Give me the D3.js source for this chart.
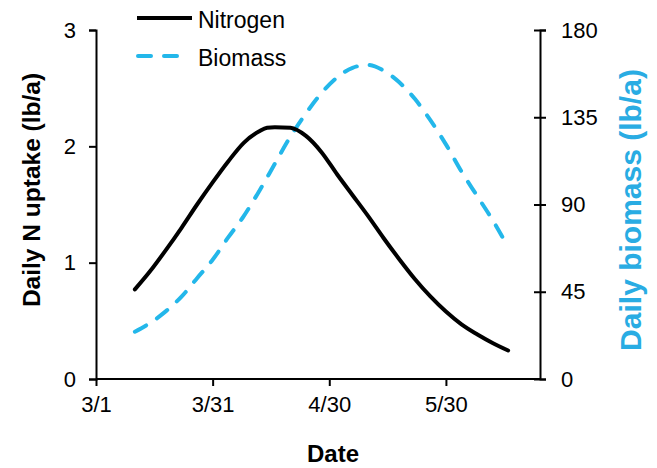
<!DOCTYPE html>
<html><head><meta charset="utf-8">
<script src="https://cdn.jsdelivr.net/npm/d3@7"></script>
<style>body{margin:0;background:#fff}svg{display:block}text{font-family:"Liberation Sans",Arial,sans-serif}</style>
</head><body><svg id="c" width="657" height="468"></svg>
<script>
// Days after 3/1 (sampled) and values
const days = [10,14,18,22,26,30,34,38,42,44,46,50,54,58,62,66,70,74,78,82,86,90,94,98,102,106];
const nitrogen = [0.77,0.93,1.11,1.30,1.50,1.69,1.87,2.03,2.13,2.16,2.165,2.16,2.09,1.95,1.76,1.58,1.40,1.21,1.03,0.86,0.71,0.58,0.47,0.385,0.31,0.245];
const biomassDays = [10,14,18,22,26,30,34,38,42,46,50,54,58,62,66,70,74,78,82,86,90,94,98,102,106];
const biomass = [24.4,29,35,42.5,52,61.5,73,84,97,111,125,137,147.5,155.5,160.5,162,159,153,144.5,133.5,121,107,94.5,82,68];
const xTickLabels = ["3/1","3/31","4/30","5/30"];
const xTickDays = [0,30,60,90];
const leftTicks = [0,1,2,3];
const rightTicks = [0,45,90,135,180];
const blue = "#23B7EA";

const base = new Date(Date.UTC(2013,2,1));
const toDate = d => new Date(base.getTime() + d*86400000);

const svg = d3.select("#c");
const x = d3.scaleUtc().domain([toDate(0), toDate(114.2)]).range([96,540]);
const yL = d3.scaleLinear().domain([0,3]).range([379,30]);
const yR = d3.scaleLinear().domain([0,180]).range([379,30]);

// Axes
const fmtMap = new Map(xTickDays.map((d,i)=>[+toDate(d), xTickLabels[i]]));
const xAxis = d3.axisBottom(x).tickValues(xTickDays.map(toDate)).tickSize(7).tickPadding(10)
  .tickFormat(d => fmtMap.get(+d));
const gx = svg.append("g").attr("transform","translate(0,379)").call(xAxis);
const gl = svg.append("g").attr("transform","translate(96,0)")
  .call(d3.axisLeft(yL).tickValues(leftTicks).tickSize(7).tickPadding(13).tickFormat(d3.format("d")));
const gr = svg.append("g").attr("transform","translate(540,0)")
  .call(d3.axisRight(yR).tickValues(rightTicks).tickSize(6).tickPadding(15).tickFormat(d3.format("d")));
gr.selectAll(".tick line").attr("x1",-6);
[gx,gl,gr].forEach(g=>{
  g.select(".domain").attr("stroke","#000").attr("stroke-width",2);
  g.selectAll(".tick line").attr("stroke","#000").attr("stroke-width",2);
  g.selectAll(".tick text").attr("fill","#000").style("font-size","22px").style("font-family",'"Liberation Sans",Arial,sans-serif');
});
gx.select(".domain").attr("d","M96,0H540");

// Lines
const lineN = d3.line().x((d,i)=>x(toDate(days[i]))).y(d=>yL(d)).curve(d3.curveMonotoneX);
const lineB = d3.line().x((d,i)=>x(toDate(biomassDays[i]))).y(d=>yR(d)).curve(d3.curveMonotoneX);
svg.append("path").datum(biomass).attr("d",lineB).attr("fill","none").attr("stroke",blue)
  .attr("stroke-width",4).attr("stroke-dasharray","13,13").attr("stroke-linecap","round");
svg.append("path").datum(nitrogen).attr("d",lineN).attr("fill","none").attr("stroke","#000")
  .attr("stroke-width",4).attr("stroke-linecap","round");

// Legend
svg.append("line").attr("x1",137).attr("x2",192).attr("y1",18).attr("y2",18).attr("stroke","#000").attr("stroke-width",4);
svg.append("text").attr("x",198).attr("y",28).style("font-size","23px").text("Nitrogen");
svg.append("line").attr("x1",138).attr("x2",181).attr("y1",56).attr("y2",56).attr("stroke",blue)
  .attr("stroke-width",4).attr("stroke-dasharray","13,13").attr("stroke-linecap","round");
svg.append("text").attr("x",198).attr("y",66).style("font-size","23px").text("Biomass");

// Titles
svg.append("text").attr("transform","translate(40,190) rotate(-90)").attr("text-anchor","middle")
  .style("font-size","24.5px").style("font-weight","bold").text("Daily N uptake (lb/a)");
svg.append("text").attr("transform","translate(641,210) rotate(-90)").attr("text-anchor","middle")
  .style("font-size","30px").style("font-weight","bold").attr("fill","#29ACE3").text("Daily biomass (lb/a)");
svg.append("text").attr("x",333).attr("y",462).attr("text-anchor","middle")
  .style("font-size","24px").style("font-weight","bold").text("Date");
</script></body></html>
